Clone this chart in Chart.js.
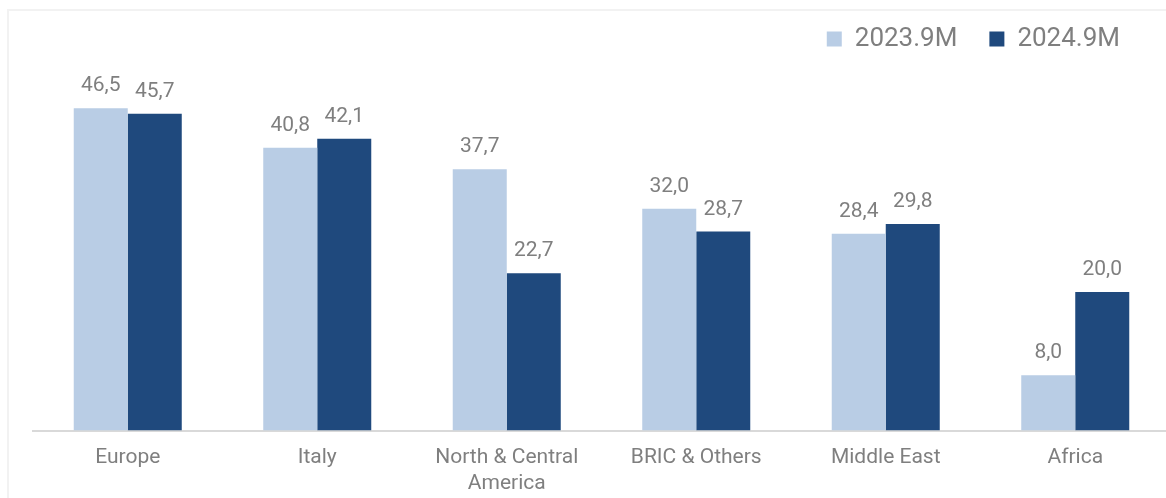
<!DOCTYPE html>
<html>
<head>
<meta charset="utf-8">
<title>Revenue by area</title>
<script src="https://cdn.jsdelivr.net/npm/chart.js@4.4.1/dist/chart.umd.min.js"></script>
<style>
  html, body { margin: 0; padding: 0; background: #fff; overflow: hidden; }
  #frame {
    position: absolute; left: 7px; top: 9px; width: 1180px; height: 500px;
    border-left: 2px solid #f2f2f2; border-top: 2px solid #f2f2f2;
  }
  #wrap { position: absolute; left: 0; top: 0; width: 1170px; height: 513px; }
</style>
</head>
<body>
<div id="frame"></div>
<div id="wrap"><canvas id="chartAreas"></canvas></div>
<script>
// Dati per area geografica
const areas = ['Europe', 'Italy', ['North & Central', 'America'], 'BRIC & Others', 'Middle East', 'Africa'];
const period2023 = [46.5, 40.8, 37.7, 32.0, 28.4, 8.0];
const period2024 = [45.7, 42.1, 22.7, 28.7, 29.8, 20.0];
const seriesNames = ['2023.9M', '2024.9M'];

const grigio = '#7f7f7f';
Chart.defaults.font.family = 'Roboto';
Chart.defaults.color = grigio;

// Etichette con il valore sopra ogni barra (virgola decimale)
const valueLabels = {
    id: 'valueLabels',
    afterDatasetsDraw(chart) {
        const ctx = chart.ctx;
        ctx.save();
        ctx.font = '21px Roboto';
        ctx.fillStyle = grigio;
        ctx.textAlign = 'center';
        ctx.textBaseline = 'alphabetic';
        chart.data.datasets.forEach((ds, i) => {
            chart.getDatasetMeta(i).data.forEach((bar, j) => {
                ctx.fillText(ds.data[j].toFixed(1).replace('.', ','), bar.x, bar.y - 17);
            });
        });
        ctx.restore();
    }
};

// Sposta la legenda un po' più in alto e a sinistra
const legendNudge = {
    id: 'legendNudge',
    afterLayout(chart) {
        chart.legend.top -= 6;
        chart.legend.right -= 18;
    }
};

const chartAreas = new Chart(document.getElementById('chartAreas').getContext('2d'), {
    type: 'bar',
    data: {
        labels: areas,
        datasets: [
            { label: seriesNames[0], data: period2023, backgroundColor: '#b9cde5' },
            { label: seriesNames[1], data: period2024, backgroundColor: '#1f497d' }
        ]
    },
    options: {
        responsive: true,
        maintainAspectRatio: false,
        animation: false,
        layout: { padding: { left: 33, right: 0, top: 0, bottom: 2 } },
        datasets: { bar: { barPercentage: 1, categoryPercentage: 0.57 } },
        plugins: {
            legend: {
                position: 'top',
                align: 'end',
                labels: {
                    boxWidth: 15,
                    boxHeight: 15,
                    padding: 32,
                    color: grigio,
                    font: { size: 26 }
                }
            },
            tooltip: { enabled: false }
        },
        scales: {
            x: {
                grid: { display: false, drawTicks: false },
                border: { display: true, color: '#d9d9d9', width: 2 },
                ticks: {
                    color: grigio,
                    font: { size: 21, lineHeight: 1.2 },
                    padding: 15,
                    maxRotation: 0,
                    autoSkip: false
                }
            },
            y: { display: false, min: 0, max: 52.3 }
        }
    },
    plugins: [valueLabels, legendNudge]
});
</script>
</body>
</html>
